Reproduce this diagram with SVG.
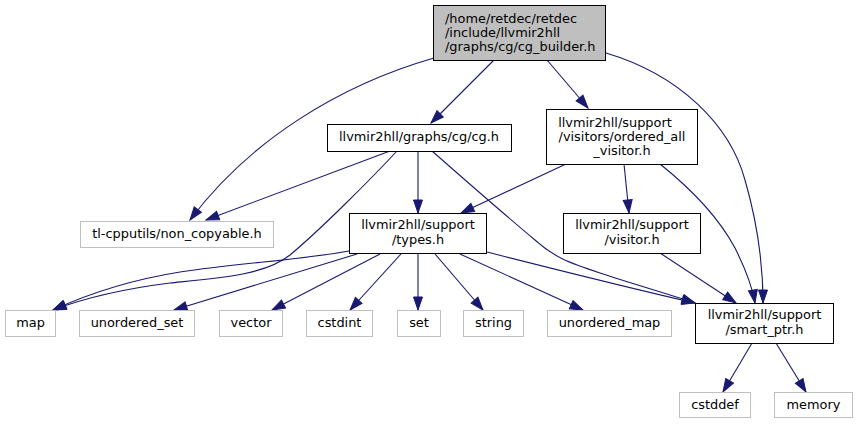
<svg xmlns="http://www.w3.org/2000/svg" width="857" height="424" viewBox="0 0 857 424">
<style>
text{font-family:"DejaVu Sans","Liberation Sans",sans-serif;font-size:12.9px;fill:#000}
.c{text-anchor:middle}
.n{fill:#fff;stroke:#000;stroke-width:1}
.g{fill:#fff;stroke:#bfbfbf;stroke-width:1}
.s{fill:#bfbfbf;stroke:#000;stroke-width:1}
.e{fill:none;stroke:#191970;stroke-width:1.1;marker-end:url(#a)}
</style>
<defs>
<marker id="a" markerUnits="userSpaceOnUse" markerWidth="14" markerHeight="10" refX="13" refY="4.5" orient="auto" overflow="visible">
<path d="M0,0 L13,4.5 L0,9 z" fill="#191970" stroke="#191970" stroke-width="1"/>
</marker>
</defs>
<rect width="857" height="424" fill="#fff"/>
<g id="edges">
<path class="e" d="M434,58 C340,85 250,140 190,220"/>
<path class="e" d="M494,60 L431,123"/>
<path class="e" d="M547,60 L588,108"/>
<path class="e" d="M606,53 C680,75 730,125 745,180 C758,225 763,265 763,303"/>
<path class="e" d="M390,151 L206,220"/>
<path class="e" d="M397,151 C370,180 320,230 290,255 C265,275 220,278 170,283 C130,288 90,296 53,310"/>
<path class="e" d="M418,151 L418,213"/>
<path class="e" d="M432,151 C465,180 505,215 535,240 C555,258 570,263 600,273 C630,283 665,293 695,303"/>
<path class="e" d="M566,164 L461,213"/>
<path class="e" d="M624,164 L629,213"/>
<path class="e" d="M660,164 C695,192 720,220 735,248 C745,268 752,285 755,303"/>
<path class="e" d="M660,253 L736,303"/>
<path class="e" d="M349,251 C300,260 240,263 180,272 C130,280 90,293 53,310"/>
<path class="e" d="M357,254 L174,310"/>
<path class="e" d="M380,254 L272,310"/>
<path class="e" d="M401,254 L350,310"/>
<path class="e" d="M418,254 L418,310"/>
<path class="e" d="M435,254 L483,310"/>
<path class="e" d="M460,254 L583,310"/>
<path class="e" d="M487,252 C550,268 630,288 695,303"/>
<path class="e" d="M752,343 L723,392"/>
<path class="e" d="M776,343 L806,392"/>
</g>
<g id="cg_builder"><rect class="s" x="433.5" y="5.5" width="172" height="55"/>
<text x="445" y="23">/home/retdec/retdec</text><text x="445" y="37">/include/llvmir2hll</text><text x="445" y="51">/graphs/cg/cg_builder.h</text></g>
<g id="cg"><rect class="n" x="327.5" y="124.5" width="184" height="27"/><text class="c" x="419" y="141">llvmir2hll/graphs/cg/cg.h</text></g>
<g id="ordered_all_visitor"><rect class="n" x="546.5" y="109.5" width="151" height="55"/>
<text class="c" x="615" y="127">llvmir2hll/support</text><text class="c" x="622" y="141">/visitors/ordered_all</text><text class="c" x="622" y="155">_visitor.h</text></g>
<g id="non_copyable"><rect class="g" x="80.5" y="221.5" width="193" height="26"/><text class="c" x="177" y="238">tl-cpputils/non_copyable.h</text></g>
<g id="types"><rect class="n" x="349.5" y="213.5" width="137" height="40"/><text class="c" x="418" y="229">llvmir2hll/support</text><text class="c" x="418" y="244">/types.h</text></g>
<g id="visitor"><rect class="n" x="563.5" y="213.5" width="137" height="40"/><text class="c" x="632" y="229">llvmir2hll/support</text><text class="c" x="632" y="244">/visitor.h</text></g>
<g id="map"><rect class="g" x="5.5" y="310.5" width="50" height="26"/><text class="c" x="30.5" y="327">map</text></g>
<g id="unordered_set"><rect class="g" x="79.5" y="310.5" width="115" height="26"/><text class="c" x="137" y="327">unordered_set</text></g>
<g id="vector"><rect class="g" x="219.5" y="310.5" width="63" height="26"/><text class="c" x="251" y="327">vector</text></g>
<g id="cstdint"><rect class="g" x="306.5" y="310.5" width="66" height="26"/><text class="c" x="339.5" y="327">cstdint</text></g>
<g id="set"><rect class="g" x="397.5" y="310.5" width="43" height="26"/><text class="c" x="419" y="327">set</text></g>
<g id="string"><rect class="g" x="463.5" y="310.5" width="60" height="26"/><text class="c" x="493.5" y="327">string</text></g>
<g id="unordered_map"><rect class="g" x="547.5" y="310.5" width="124" height="26"/><text class="c" x="609.5" y="327">unordered_map</text></g>
<g id="smart_ptr"><rect class="n" x="695.5" y="303.5" width="138" height="40"/><text class="c" x="764.5" y="319">llvmir2hll/support</text><text class="c" x="764.5" y="334">/smart_ptr.h</text></g>
<g id="cstddef"><rect class="g" x="679.5" y="392.5" width="71" height="25"/><text class="c" x="715" y="409">cstddef</text></g>
<g id="memory"><rect class="g" x="774.5" y="392.5" width="78" height="25"/><text class="c" x="813.5" y="409">memory</text></g>
</svg>
